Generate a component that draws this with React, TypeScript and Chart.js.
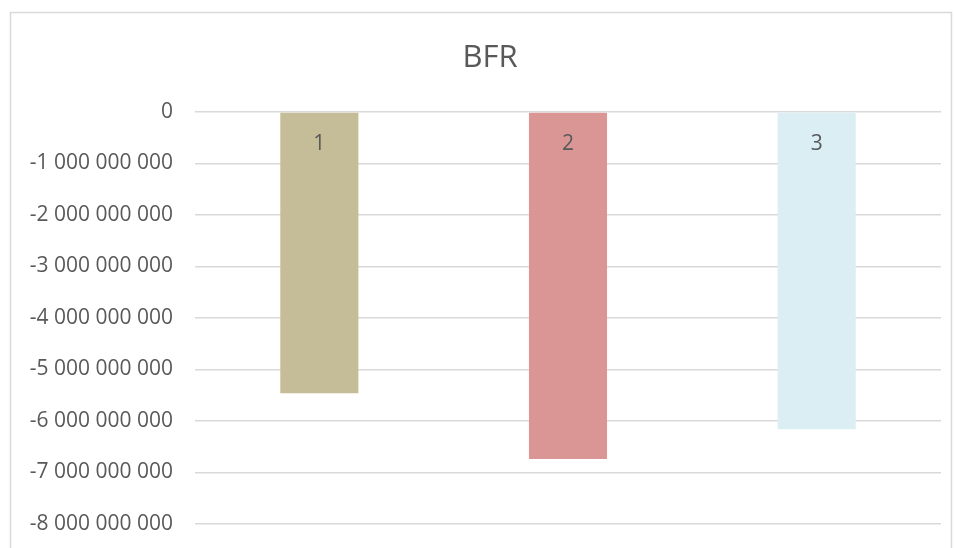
import React, { useEffect, useRef } from "react";
import { Chart, registerables } from "chart.js";

Chart.register(...registerables);

const chartTitle = "BFR";
const categories = ["1", "2", "3"];
const bfrValues = [-5460000000, -6740000000, -6160000000];
const barColors = ["#c4bd97", "#d99694", "#daeef3"];
const yMin = -8000000000;
const yMax = 0;
const yStep = 1000000000;

const textColor = "#595959";
const gridColor = "#d9d9d9";
const fontFamily = "'Open Sans', 'Liberation Sans', sans-serif";

function formatTick(v: number): string {
  const abs = Math.round(Math.abs(v));
  const s = String(abs).replace(/\B(?=(\d{3})+(?!\d))/g, " ");
  return v < 0 ? "-" + s : s;
}

// Frame around the chart plus the centred title
const framePlugin = {
  id: "frame",
  beforeDraw(chart: any) {
    const ctx = chart.ctx;
    ctx.save();
    ctx.fillStyle = "#ffffff";
    ctx.fillRect(0, 0, chart.width, chart.height);
    ctx.strokeStyle = gridColor;
    ctx.lineWidth = 1.5;
    ctx.strokeRect(10.5, 12.5, 941, 600);
    ctx.fillStyle = textColor;
    ctx.font = `31px ${fontFamily}`;
    ctx.textAlign = "center";
    ctx.textBaseline = "middle";
    ctx.fillText(chartTitle, 490, 58);
    ctx.restore();
  },
};

// Category name written inside each bar, just below the zero line
const barLabelPlugin = {
  id: "barLabels",
  afterDatasetsDraw(chart: any) {
    const ctx = chart.ctx;
    const meta = chart.getDatasetMeta(0);
    ctx.save();
    ctx.fillStyle = textColor;
    ctx.font = `21px ${fontFamily}`;
    ctx.textAlign = "center";
    ctx.textBaseline = "middle";
    meta.data.forEach((bar: any, i: number) => {
      const top = Math.min(bar.y, bar.base);
      ctx.fillText(categories[i], bar.x, top + 31);
    });
    ctx.restore();
  },
};

export default function App() {
  const canvasRef = useRef<HTMLCanvasElement | null>(null);

  useEffect(() => {
    if (!canvasRef.current) return;
    const chart = new Chart(canvasRef.current, {
      type: "bar",
      data: {
        labels: categories,
        datasets: [
          {
            label: chartTitle,
            data: bfrValues,
            backgroundColor: barColors,
            borderWidth: 0,
            categoryPercentage: 1,
            barPercentage: 0.314,
          },
        ],
      },
      options: {
        responsive: false,
        animation: false,
        layout: { padding: { top: 112, right: 14, bottom: 24, left: 0 } },
        plugins: {
          legend: { display: false },
          title: { display: false },
          tooltip: { enabled: false },
        },
        scales: {
          x: { display: false },
          y: {
            min: yMin,
            max: yMax,
            afterFit(axis: any) {
              axis.width = 195;
              axis.paddingTop = 0;
              axis.paddingBottom = 0;
            },
            border: { display: false },
            grid: { color: gridColor, lineWidth: 1.5, drawTicks: false },
            ticks: {
              stepSize: yStep,
              padding: 22,
              color: textColor,
              font: { family: fontFamily, size: 21 },
              callback: (v: any) => formatTick(Number(v)),
            },
          },
        },
      },
      plugins: [framePlugin, barLabelPlugin],
    });
    return () => chart.destroy();
  }, []);

  return (
    <div
      style={{
        position: "fixed",
        left: 0,
        top: 0,
        width: 955,
        height: 548,
        overflow: "hidden",
        background: "#ffffff",
      }}
    >
      <canvas ref={canvasRef} width={955} height={548} style={{ display: "block" }} />
    </div>
  );
}
